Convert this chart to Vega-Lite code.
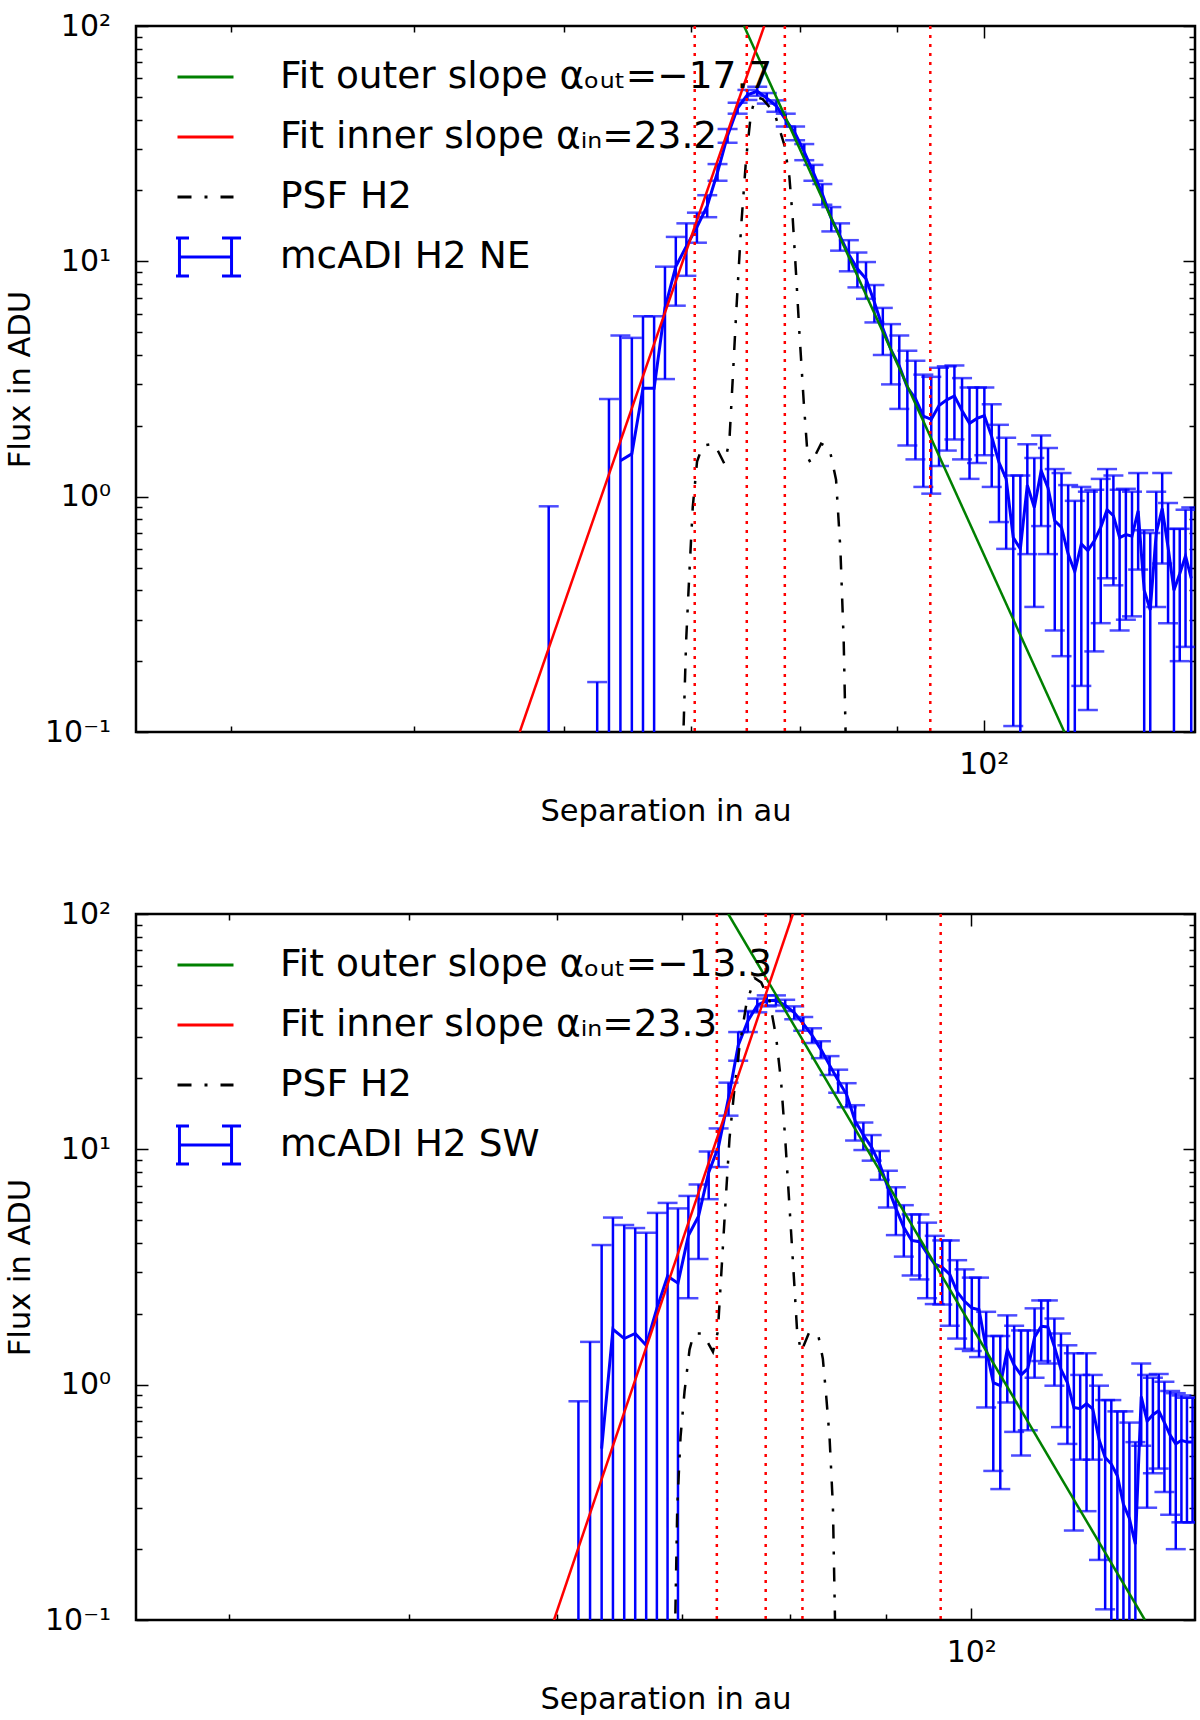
{
  "$schema": "https://vega.github.io/schema/vega-lite/v6.json",
  "autosize": {"type": "pad"},
  "padding": {"left": 4, "top": 9, "right": 0, "bottom": 0},
  "background": "white",
  "spacing": 182,
  "bounds": "flush",
  "datasets": {
    "ne": [
      {"x": 58.9, "y": null, "lo": 0.05, "hi": 0.91},
      {"x": 62.48, "y": null, "lo": 0.05, "hi": 0.163},
      {"x": 63.38, "y": null, "lo": 0.05, "hi": 2.6},
      {"x": 64.27, "y": 1.42, "lo": 0.05, "hi": 4.84},
      {"x": 65.17, "y": 1.52, "lo": 0.05, "hi": 4.73},
      {"x": 66.06, "y": 2.89, "lo": 0.05, "hi": 5.84},
      {"x": 66.96, "y": 2.89, "lo": 0.05, "hi": 5.84},
      {"x": 67.85, "y": 6.33, "lo": 3.16, "hi": 9.49},
      {"x": 68.75, "y": 9.5, "lo": 6.48, "hi": 12.7},
      {"x": 69.64, "y": 11.6, "lo": 8.68, "hi": 14.5},
      {"x": 70.54, "y": 14.0, "lo": 12.0, "hi": 16.1},
      {"x": 71.43, "y": 17.2, "lo": 15.4, "hi": 19.1},
      {"x": 72.33, "y": 23.9, "lo": 22.0, "hi": 25.9},
      {"x": 73.22, "y": 34.2, "lo": 31.9, "hi": 36.5},
      {"x": 74.12, "y": 44.8, "lo": 42.4, "hi": 47.2},
      {"x": 75.01, "y": 51.0, "lo": 48.5, "hi": 53.5},
      {"x": 75.91, "y": 52.8, "lo": 50.5, "hi": 55.2},
      {"x": 76.8, "y": 49.3, "lo": 46.8, "hi": 51.9},
      {"x": 77.7, "y": 45.7, "lo": 43.2, "hi": 48.3},
      {"x": 78.59, "y": 39.9, "lo": 37.4, "hi": 42.4},
      {"x": 79.49, "y": 35.0, "lo": 32.7, "hi": 37.4},
      {"x": 80.38, "y": 29.2, "lo": 26.9, "hi": 31.5},
      {"x": 81.28, "y": 23.8, "lo": 22.0, "hi": 25.7},
      {"x": 82.17, "y": 19.3, "lo": 17.4, "hi": 21.3},
      {"x": 83.07, "y": 15.2, "lo": 13.4, "hi": 17.0},
      {"x": 83.96, "y": 12.8, "lo": 11.1, "hi": 14.5},
      {"x": 84.86, "y": 10.7, "lo": 9.07, "hi": 12.3},
      {"x": 85.75, "y": 9.3, "lo": 7.75, "hi": 10.9},
      {"x": 86.65, "y": 8.43, "lo": 6.93, "hi": 9.93},
      {"x": 87.54, "y": 6.7, "lo": 5.5, "hi": 7.93},
      {"x": 88.44, "y": 5.2, "lo": 4.0, "hi": 6.34},
      {"x": 89.33, "y": 4.2, "lo": 3.0, "hi": 5.41},
      {"x": 90.23, "y": 3.6, "lo": 2.36, "hi": 4.84},
      {"x": 91.12, "y": 2.91, "lo": 1.65, "hi": 4.17},
      {"x": 92.02, "y": 2.61, "lo": 1.44, "hi": 3.78},
      {"x": 92.91, "y": 2.2, "lo": 1.1, "hi": 3.3},
      {"x": 93.81, "y": 2.13, "lo": 1.03, "hi": 3.23},
      {"x": 94.7, "y": 2.44, "lo": 1.35, "hi": 3.53},
      {"x": 95.6, "y": 2.58, "lo": 1.57, "hi": 3.58},
      {"x": 96.49, "y": 2.68, "lo": 1.75, "hi": 3.61},
      {"x": 97.39, "y": 2.32, "lo": 1.44, "hi": 3.19},
      {"x": 98.28, "y": 2.05, "lo": 1.19, "hi": 2.91},
      {"x": 99.18, "y": 2.15, "lo": 1.39, "hi": 2.91},
      {"x": 100.07, "y": 2.21, "lo": 1.5, "hi": 2.91},
      {"x": 100.97, "y": 1.8, "lo": 1.1, "hi": 2.47},
      {"x": 101.86, "y": 1.4, "lo": 0.78, "hi": 2.02},
      {"x": 102.76, "y": 1.19, "lo": 0.6, "hi": 1.78},
      {"x": 103.65, "y": 0.67, "lo": 0.106, "hi": 1.23},
      {"x": 104.55, "y": 0.6, "lo": 0.05, "hi": 1.23},
      {"x": 105.44, "y": 1.12, "lo": 0.57, "hi": 1.67},
      {"x": 106.34, "y": 0.9, "lo": 0.34, "hi": 1.46},
      {"x": 107.23, "y": 1.29, "lo": 0.75, "hi": 1.82},
      {"x": 108.13, "y": 1.09, "lo": 0.57, "hi": 1.61},
      {"x": 109.02, "y": 0.79, "lo": 0.27, "hi": 1.31},
      {"x": 109.92, "y": 0.74, "lo": 0.21, "hi": 1.26},
      {"x": 110.81, "y": 0.57, "lo": 0.05, "hi": 1.12},
      {"x": 111.71, "y": 0.48, "lo": 0.05, "hi": 0.96},
      {"x": 112.6, "y": 0.63, "lo": 0.157, "hi": 1.1},
      {"x": 113.5, "y": 0.59, "lo": 0.124, "hi": 1.05},
      {"x": 114.39, "y": 0.65, "lo": 0.22, "hi": 1.07},
      {"x": 115.29, "y": 0.74, "lo": 0.29, "hi": 1.19},
      {"x": 116.18, "y": 0.88, "lo": 0.45, "hi": 1.31},
      {"x": 117.08, "y": 0.83, "lo": 0.42, "hi": 1.23},
      {"x": 117.97, "y": 0.67, "lo": 0.27, "hi": 1.07},
      {"x": 118.87, "y": 0.69, "lo": 0.3, "hi": 1.08},
      {"x": 119.76, "y": 0.68, "lo": 0.31, "hi": 1.05},
      {"x": 120.66, "y": 0.87, "lo": 0.49, "hi": 1.26},
      {"x": 121.55, "y": 0.4, "lo": 0.05, "hi": 0.72},
      {"x": 122.45, "y": 0.33, "lo": 0.05, "hi": 0.7},
      {"x": 123.34, "y": 0.7, "lo": 0.34, "hi": 1.05},
      {"x": 124.24, "y": 0.89, "lo": 0.52, "hi": 1.26},
      {"x": 125.13, "y": 0.61, "lo": 0.29, "hi": 0.94},
      {"x": 126.03, "y": 0.4, "lo": 0.05, "hi": 0.73},
      {"x": 126.92, "y": 0.47, "lo": 0.2, "hi": 0.73},
      {"x": 127.82, "y": 0.56, "lo": 0.23, "hi": 0.88},
      {"x": 128.71, "y": 0.45, "lo": 0.05, "hi": 0.9}
    ],
    "sw": [
      {"x": 61.59, "y": null, "lo": 0.05, "hi": 0.85},
      {"x": 62.48, "y": null, "lo": 0.05, "hi": 1.52},
      {"x": 63.38, "y": 0.535, "lo": 0.05, "hi": 3.92},
      {"x": 64.27, "y": 1.72, "lo": 0.05, "hi": 5.13},
      {"x": 65.17, "y": 1.57, "lo": 0.05, "hi": 4.77},
      {"x": 66.06, "y": 1.65, "lo": 0.05, "hi": 4.63},
      {"x": 66.96, "y": 1.47, "lo": 0.05, "hi": 4.42},
      {"x": 67.85, "y": 2.11, "lo": 0.05, "hi": 5.37},
      {"x": 68.75, "y": 2.89, "lo": 0.05, "hi": 5.92},
      {"x": 69.64, "y": 2.7, "lo": 0.05, "hi": 5.61},
      {"x": 70.54, "y": 4.3, "lo": 2.33, "hi": 6.34},
      {"x": 71.43, "y": 5.2, "lo": 3.42, "hi": 7.09},
      {"x": 72.33, "y": 7.97, "lo": 6.14, "hi": 9.79},
      {"x": 73.22, "y": 10.3, "lo": 8.41, "hi": 12.27},
      {"x": 74.12, "y": 16.5, "lo": 13.9, "hi": 19.2},
      {"x": 75.01, "y": 27.6, "lo": 23.8, "hi": 31.5},
      {"x": 75.91, "y": 35.1, "lo": 31.5, "hi": 38.7},
      {"x": 76.8, "y": 41.0, "lo": 38.2, "hi": 43.7},
      {"x": 77.7, "y": 42.8, "lo": 40.5, "hi": 45.1},
      {"x": 78.59, "y": 43.0, "lo": 40.9, "hi": 45.1},
      {"x": 79.49, "y": 40.9, "lo": 38.7, "hi": 43.2},
      {"x": 80.38, "y": 38.1, "lo": 35.7, "hi": 40.5},
      {"x": 81.28, "y": 34.2, "lo": 31.9, "hi": 36.5},
      {"x": 82.17, "y": 30.5, "lo": 28.3, "hi": 32.7},
      {"x": 83.07, "y": 26.6, "lo": 24.4, "hi": 28.8},
      {"x": 83.96, "y": 22.8, "lo": 20.7, "hi": 24.9},
      {"x": 84.86, "y": 19.6, "lo": 17.4, "hi": 21.8},
      {"x": 85.75, "y": 17.1, "lo": 15.1, "hi": 19.1},
      {"x": 86.65, "y": 13.2, "lo": 10.9, "hi": 15.4},
      {"x": 87.54, "y": 11.5, "lo": 9.93, "hi": 13.0},
      {"x": 88.44, "y": 10.2, "lo": 8.95, "hi": 11.5},
      {"x": 89.33, "y": 8.63, "lo": 7.42, "hi": 9.84},
      {"x": 90.23, "y": 6.89, "lo": 5.66, "hi": 8.11},
      {"x": 91.12, "y": 5.61, "lo": 4.32, "hi": 6.9},
      {"x": 92.02, "y": 4.65, "lo": 3.5, "hi": 5.79},
      {"x": 92.91, "y": 4.1, "lo": 2.91, "hi": 5.29},
      {"x": 93.81, "y": 4.05, "lo": 2.8, "hi": 5.29},
      {"x": 94.7, "y": 3.61, "lo": 2.33, "hi": 4.88},
      {"x": 95.6, "y": 3.25, "lo": 2.2, "hi": 4.29},
      {"x": 96.49, "y": 3.15, "lo": 2.19, "hi": 4.1},
      {"x": 97.39, "y": 2.94, "lo": 1.78, "hi": 4.1},
      {"x": 98.28, "y": 2.48, "lo": 1.57, "hi": 3.38},
      {"x": 99.18, "y": 2.26, "lo": 1.42, "hi": 3.09},
      {"x": 100.07, "y": 2.12, "lo": 1.39, "hi": 2.85},
      {"x": 100.97, "y": 2.08, "lo": 1.31, "hi": 2.85},
      {"x": 101.86, "y": 1.42, "lo": 0.8, "hi": 2.04},
      {"x": 102.76, "y": 1.02, "lo": 0.43, "hi": 1.61},
      {"x": 103.65, "y": 0.99, "lo": 0.36, "hi": 1.61},
      {"x": 104.55, "y": 1.41, "lo": 0.84, "hi": 1.97},
      {"x": 105.44, "y": 1.21, "lo": 0.63, "hi": 1.78},
      {"x": 106.34, "y": 1.1, "lo": 0.5, "hi": 1.7},
      {"x": 107.23, "y": 1.17, "lo": 0.64, "hi": 1.7},
      {"x": 108.13, "y": 1.59, "lo": 1.07, "hi": 2.11},
      {"x": 109.02, "y": 1.77, "lo": 1.26, "hi": 2.28},
      {"x": 109.92, "y": 1.76, "lo": 1.23, "hi": 2.28},
      {"x": 110.81, "y": 1.45, "lo": 0.99, "hi": 1.91},
      {"x": 111.71, "y": 1.16, "lo": 0.66, "hi": 1.65},
      {"x": 112.6, "y": 1.02, "lo": 0.56, "hi": 1.47},
      {"x": 113.5, "y": 0.8, "lo": 0.24, "hi": 1.36},
      {"x": 114.39, "y": 0.79, "lo": 0.48, "hi": 1.1},
      {"x": 115.29, "y": 0.83, "lo": 0.29, "hi": 1.36},
      {"x": 116.18, "y": 0.79, "lo": 0.48, "hi": 1.1},
      {"x": 117.08, "y": 0.585, "lo": 0.18, "hi": 0.99},
      {"x": 117.97, "y": 0.49, "lo": 0.111, "hi": 0.86},
      {"x": 118.87, "y": 0.46, "lo": 0.05, "hi": 0.86},
      {"x": 119.76, "y": 0.41, "lo": 0.05, "hi": 0.77},
      {"x": 120.66, "y": 0.31, "lo": 0.05, "hi": 0.77},
      {"x": 121.55, "y": 0.27, "lo": 0.05, "hi": 0.69},
      {"x": 122.45, "y": 0.21, "lo": 0.05, "hi": 0.57},
      {"x": 123.34, "y": 0.89, "lo": 0.55, "hi": 1.23},
      {"x": 124.24, "y": 0.7, "lo": 0.3, "hi": 1.1},
      {"x": 125.13, "y": 0.745, "lo": 0.42, "hi": 1.07},
      {"x": 126.03, "y": 0.775, "lo": 0.44, "hi": 1.11},
      {"x": 126.92, "y": 0.69, "lo": 0.35, "hi": 1.03},
      {"x": 127.82, "y": 0.61, "lo": 0.28, "hi": 0.94},
      {"x": 128.71, "y": 0.56, "lo": 0.2, "hi": 0.92},
      {"x": 129.61, "y": 0.58, "lo": 0.26, "hi": 0.9},
      {"x": 130.5, "y": 0.57, "lo": 0.26, "hi": 0.88},
      {"x": 131.4, "y": 0.57, "lo": 0.26, "hi": 0.88}
    ],
    "psf_ne": [
      {"x": 69.3, "y": 0.07}, {"x": 69.62, "y": 0.244}, {"x": 69.9, "y": 0.48}, {"x": 70.18, "y": 0.9},
      {"x": 70.55, "y": 1.41}, {"x": 71.04, "y": 1.65}, {"x": 72.05, "y": 1.68}, {"x": 72.94, "y": 1.38},
      {"x": 73.38, "y": 1.72}, {"x": 73.68, "y": 3.16}, {"x": 73.98, "y": 5.92}, {"x": 74.43, "y": 13.9},
      {"x": 74.89, "y": 27.3}, {"x": 75.34, "y": 42.8}, {"x": 75.8, "y": 50.0}, {"x": 76.41, "y": 48.9},
      {"x": 77.51, "y": 42.8}, {"x": 78.46, "y": 31.2}, {"x": 78.94, "y": 22.8}, {"x": 79.26, "y": 15.2},
      {"x": 79.58, "y": 8.88}, {"x": 79.91, "y": 4.95}, {"x": 80.33, "y": 2.52}, {"x": 80.72, "y": 1.47},
      {"x": 81.05, "y": 1.38}, {"x": 82.04, "y": 1.68}, {"x": 82.87, "y": 1.61}, {"x": 83.55, "y": 1.18},
      {"x": 83.99, "y": 0.6}, {"x": 84.33, "y": 0.244}, {"x": 84.6, "y": 0.07}
    ],
    "psf_sw": [
      {"x": 69.35, "y": 0.07}, {"x": 69.58, "y": 0.305}, {"x": 69.86, "y": 0.6}, {"x": 70.21, "y": 0.94},
      {"x": 70.64, "y": 1.41}, {"x": 71.02, "y": 1.65}, {"x": 71.81, "y": 1.65}, {"x": 72.71, "y": 1.38},
      {"x": 73.15, "y": 1.68}, {"x": 73.45, "y": 2.89}, {"x": 73.82, "y": 5.66}, {"x": 74.21, "y": 11.1},
      {"x": 74.67, "y": 18.2}, {"x": 75.13, "y": 27.3}, {"x": 75.75, "y": 40.9}, {"x": 76.53, "y": 53.5},
      {"x": 77.17, "y": 51.2}, {"x": 77.97, "y": 42.8}, {"x": 78.61, "y": 29.9}, {"x": 79.1, "y": 19.1},
      {"x": 79.49, "y": 11.1}, {"x": 79.92, "y": 5.66}, {"x": 80.34, "y": 2.89}, {"x": 80.67, "y": 1.68},
      {"x": 81.07, "y": 1.38}, {"x": 81.91, "y": 1.68}, {"x": 82.82, "y": 1.61}, {"x": 83.27, "y": 1.29},
      {"x": 83.61, "y": 0.9}, {"x": 83.96, "y": 0.6}, {"x": 84.31, "y": 0.305}, {"x": 84.6, "y": 0.07}
    ],
    "out_ne": [{"x": 74.7, "y": 100}, {"x": 110.3, "y": 0.1}],
    "in_ne": [{"x": 56.86, "y": 0.1}, {"x": 76.56, "y": 100}],
    "out_sw": [{"x": 74.1, "y": 100}, {"x": 123.9, "y": 0.1}],
    "in_sw": [{"x": 59.76, "y": 0.1}, {"x": 80.25, "y": 100}],
    "vl_ne": [{"x": 70.35}, {"x": 74.95}, {"x": 78.5}, {"x": 93.7}],
    "vl_sw": [{"x": 73.06}, {"x": 77.6}, {"x": 81.2}, {"x": 96.3}]
  },
  "resolve": {"scale": {"color": "independent"}, "legend": {"color": "independent"}},
  "vconcat": [
    {
      "width": 1059,
      "height": 706,
      "resolve": {"axis": {"x": "independent", "y": "independent"}},
      "layer": [
        {
          "data": {"name": "ne"},
          "mark": {"type": "rule", "color": "#0000ff", "strokeWidth": 2.5, "clip": true},
          "encoding": {
            "x": {"field": "x", "type": "quantitative", "scale": {"type": "log", "domain": [35.65, 129.3], "nice": false},
              "axis": {"orient": "bottom", "values": [40, 50, 60, 70, 80, 90, 100], "labelExpr": "datum.value === 100 ? '10²' : ''",
                "tickSize": {"condition": {"test": "datum.value === 100", "value": -12}, "value": -6},
                "labelPadding": 29, "title": "Separation in au", "titlePadding": 11}},
            "y": {"field": "lo", "type": "quantitative", "scale": {"type": "log", "domain": [0.1, 100], "nice": false},
              "axis": {"orient": "left", "values": [0.1, 0.2, 0.3, 0.4, 0.5, 0.6, 0.7, 0.8, 0.9, 1, 2, 3, 4, 5, 6, 7, 8, 9, 10, 20, 30, 40, 50, 60, 70, 80, 90, 100],
                "labelExpr": "datum.value === 100 ? '10²' : datum.value === 10 ? '10¹' : datum.value === 1 ? '10⁰' : datum.value === 0.1 ? '10⁻¹' : ''",
                "tickSize": {"condition": {"test": "datum.value === 0.1 || datum.value === 1 || datum.value === 10 || datum.value === 100", "value": -12}, "value": -6},
                "labelPadding": 37.5, "title": "Flux in ADU", "titlePadding": 9}},
            "y2": {"field": "hi"}
          }
        },
        {
          "data": {"name": "ne"},
          "mark": {"type": "tick", "orient": "horizontal", "color": "#0000ff", "size": 20, "thickness": 2.5, "clip": true},
          "encoding": {
            "x": {"field": "x", "type": "quantitative", "scale": {"type": "log", "domain": [35.65, 129.3], "nice": false}, "axis": null},
            "y": {"field": "hi", "type": "quantitative", "scale": {"type": "log", "domain": [0.1, 100], "nice": false}, "axis": null}
          }
        },
        {
          "data": {"name": "ne"},
          "mark": {"type": "tick", "orient": "horizontal", "color": "#0000ff", "size": 20, "thickness": 2.5, "clip": true},
          "encoding": {
            "x": {"field": "x", "type": "quantitative", "scale": {"type": "log", "domain": [35.65, 129.3], "nice": false}, "axis": null},
            "y": {"field": "lo", "type": "quantitative", "scale": {"type": "log", "domain": [0.1, 100], "nice": false}, "axis": null}
          }
        },
        {
          "data": {"name": "ne"},
          "mark": {"type": "line", "strokeWidth": 3, "clip": true},
          "encoding": {
            "x": {"field": "x", "type": "quantitative", "scale": {"type": "log", "domain": [35.65, 129.3], "nice": false}, "axis": null},
            "y": {"field": "y", "type": "quantitative", "scale": {"type": "log", "domain": [0.1, 100], "nice": false}, "axis": null},
            "color": {"datum": "mcADI H2 NE", "type": "nominal",
              "scale": {"domain": ["Fit outer slope αₒᵤₜ=−17.7", "Fit inner slope αᵢₙ=23.2", "PSF H2", "mcADI H2 NE"], "range": ["#008000", "#ff0000", "#000000", "#0000ff"]},
              "legend": {"orient": "none", "legendX": 40, "legendY": 21, "padding": 0, "title": null, "labelOffset": 45, "clipHeight": 60, "rowPadding": 0,
                "symbolSize": 3136, "symbolStrokeWidth": 3, "symbolType": "stroke",
                "encode": {"symbols": {"update": {
                  "shape": {"signal": "indexof(datum.value, 'mcADI') === 0 ? 'M-0.93,-0.68V0.68M0.93,-0.68V0.68M-0.93,0H0.93M-1.27,-0.68H-0.59M-1.27,0.68H-0.59M0.59,-0.68H1.27M0.59,0.68H1.27' : 'stroke'"},
                  "strokeDash": {"signal": "datum.value === 'PSF H2' ? [14, 13, 3, 13] : [1, 0]"},
                  "fill": {"value": "transparent"}
                }}}}}
          }
        },
        {
          "data": {"name": "psf_ne"},
          "mark": {"type": "line", "strokeWidth": 2.5, "strokeDash": [14, 13, 3, 13], "clip": true},
          "encoding": {
            "x": {"field": "x", "type": "quantitative", "scale": {"type": "log", "domain": [35.65, 129.3], "nice": false}, "axis": null},
            "y": {"field": "y", "type": "quantitative", "scale": {"type": "log", "domain": [0.1, 100], "nice": false}, "axis": null},
            "color": {"datum": "PSF H2", "type": "nominal"}
          }
        },
        {
          "data": {"name": "out_ne"},
          "mark": {"type": "line", "strokeWidth": 2.5, "clip": true},
          "encoding": {
            "x": {"field": "x", "type": "quantitative", "scale": {"type": "log", "domain": [35.65, 129.3], "nice": false}, "axis": null},
            "y": {"field": "y", "type": "quantitative", "scale": {"type": "log", "domain": [0.1, 100], "nice": false}, "axis": null},
            "color": {"datum": "Fit outer slope αₒᵤₜ=−17.7", "type": "nominal"}
          }
        },
        {
          "data": {"name": "in_ne"},
          "mark": {"type": "line", "strokeWidth": 2.5, "clip": true},
          "encoding": {
            "x": {"field": "x", "type": "quantitative", "scale": {"type": "log", "domain": [35.65, 129.3], "nice": false}, "axis": null},
            "y": {"field": "y", "type": "quantitative", "scale": {"type": "log", "domain": [0.1, 100], "nice": false}, "axis": null},
            "color": {"datum": "Fit inner slope αᵢₙ=23.2", "type": "nominal"}
          }
        },
        {
          "data": {"name": "vl_ne"},
          "mark": {"type": "rule", "color": "#ff0000", "strokeWidth": 2.5, "strokeDash": [3, 6]},
          "encoding": {
            "x": {"field": "x", "type": "quantitative", "scale": {"type": "log", "domain": [35.65, 129.3], "nice": false}, "axis": null}
          }
        },
        {
          "data": {"name": "out_ne"},
          "mark": {"type": "point", "opacity": 0},
          "encoding": {
            "x": {"field": "x", "type": "quantitative", "scale": {"type": "log", "domain": [35.65, 129.3], "nice": false},
              "axis": {"orient": "top", "values": [40, 50, 60, 70, 80, 90, 100], "labels": false, "title": null,
                "tickSize": {"condition": {"test": "datum.value === 100", "value": -12}, "value": -6}}},
            "y": {"field": "y", "type": "quantitative", "scale": {"type": "log", "domain": [0.1, 100], "nice": false},
              "axis": {"orient": "right", "values": [0.1, 0.2, 0.3, 0.4, 0.5, 0.6, 0.7, 0.8, 0.9, 1, 2, 3, 4, 5, 6, 7, 8, 9, 10, 20, 30, 40, 50, 60, 70, 80, 90, 100], "labels": false, "title": null,
                "tickSize": {"condition": {"test": "datum.value === 0.1 || datum.value === 1 || datum.value === 10 || datum.value === 100", "value": -12}, "value": -6}}}
          }
        }
      ]
    },
    {
      "width": 1059,
      "height": 706,
      "resolve": {"axis": {"x": "independent", "y": "independent"}},
      "layer": [
        {
          "data": {"name": "sw"},
          "mark": {"type": "rule", "color": "#0000ff", "strokeWidth": 2.5, "clip": true},
          "encoding": {
            "x": {"field": "x", "type": "quantitative", "scale": {"type": "log", "domain": [35.68, 131.8], "nice": false},
              "axis": {"orient": "bottom", "values": [40, 50, 60, 70, 80, 90, 100], "labelExpr": "datum.value === 100 ? '10²' : ''",
                "tickSize": {"condition": {"test": "datum.value === 100", "value": -12}, "value": -6},
                "labelPadding": 29, "title": "Separation in au", "titlePadding": 11}},
            "y": {"field": "lo", "type": "quantitative", "scale": {"type": "log", "domain": [0.1, 100], "nice": false},
              "axis": {"orient": "left", "values": [0.1, 0.2, 0.3, 0.4, 0.5, 0.6, 0.7, 0.8, 0.9, 1, 2, 3, 4, 5, 6, 7, 8, 9, 10, 20, 30, 40, 50, 60, 70, 80, 90, 100],
                "labelExpr": "datum.value === 100 ? '10²' : datum.value === 10 ? '10¹' : datum.value === 1 ? '10⁰' : datum.value === 0.1 ? '10⁻¹' : ''",
                "tickSize": {"condition": {"test": "datum.value === 0.1 || datum.value === 1 || datum.value === 10 || datum.value === 100", "value": -12}, "value": -6},
                "labelPadding": 37.5, "title": "Flux in ADU", "titlePadding": 9}},
            "y2": {"field": "hi"}
          }
        },
        {
          "data": {"name": "sw"},
          "mark": {"type": "tick", "orient": "horizontal", "color": "#0000ff", "size": 20, "thickness": 2.5, "clip": true},
          "encoding": {
            "x": {"field": "x", "type": "quantitative", "scale": {"type": "log", "domain": [35.68, 131.8], "nice": false}, "axis": null},
            "y": {"field": "hi", "type": "quantitative", "scale": {"type": "log", "domain": [0.1, 100], "nice": false}, "axis": null}
          }
        },
        {
          "data": {"name": "sw"},
          "mark": {"type": "tick", "orient": "horizontal", "color": "#0000ff", "size": 20, "thickness": 2.5, "clip": true},
          "encoding": {
            "x": {"field": "x", "type": "quantitative", "scale": {"type": "log", "domain": [35.68, 131.8], "nice": false}, "axis": null},
            "y": {"field": "lo", "type": "quantitative", "scale": {"type": "log", "domain": [0.1, 100], "nice": false}, "axis": null}
          }
        },
        {
          "data": {"name": "sw"},
          "mark": {"type": "line", "strokeWidth": 3, "clip": true},
          "encoding": {
            "x": {"field": "x", "type": "quantitative", "scale": {"type": "log", "domain": [35.68, 131.8], "nice": false}, "axis": null},
            "y": {"field": "y", "type": "quantitative", "scale": {"type": "log", "domain": [0.1, 100], "nice": false}, "axis": null},
            "color": {"datum": "mcADI H2 SW", "type": "nominal",
              "scale": {"domain": ["Fit outer slope αₒᵤₜ=−13.3", "Fit inner slope αᵢₙ=23.3", "PSF H2", "mcADI H2 SW"], "range": ["#008000", "#ff0000", "#000000", "#0000ff"]},
              "legend": {"orient": "none", "legendX": 40, "legendY": 21, "padding": 0, "title": null, "labelOffset": 45, "clipHeight": 60, "rowPadding": 0,
                "symbolSize": 3136, "symbolStrokeWidth": 3, "symbolType": "stroke",
                "encode": {"symbols": {"update": {
                  "shape": {"signal": "indexof(datum.value, 'mcADI') === 0 ? 'M-0.93,-0.68V0.68M0.93,-0.68V0.68M-0.93,0H0.93M-1.27,-0.68H-0.59M-1.27,0.68H-0.59M0.59,-0.68H1.27M0.59,0.68H1.27' : 'stroke'"},
                  "strokeDash": {"signal": "datum.value === 'PSF H2' ? [14, 13, 3, 13] : [1, 0]"},
                  "fill": {"value": "transparent"}
                }}}}}
          }
        },
        {
          "data": {"name": "psf_sw"},
          "mark": {"type": "line", "strokeWidth": 2.5, "strokeDash": [14, 13, 3, 13], "clip": true},
          "encoding": {
            "x": {"field": "x", "type": "quantitative", "scale": {"type": "log", "domain": [35.68, 131.8], "nice": false}, "axis": null},
            "y": {"field": "y", "type": "quantitative", "scale": {"type": "log", "domain": [0.1, 100], "nice": false}, "axis": null},
            "color": {"datum": "PSF H2", "type": "nominal"}
          }
        },
        {
          "data": {"name": "out_sw"},
          "mark": {"type": "line", "strokeWidth": 2.5, "clip": true},
          "encoding": {
            "x": {"field": "x", "type": "quantitative", "scale": {"type": "log", "domain": [35.68, 131.8], "nice": false}, "axis": null},
            "y": {"field": "y", "type": "quantitative", "scale": {"type": "log", "domain": [0.1, 100], "nice": false}, "axis": null},
            "color": {"datum": "Fit outer slope αₒᵤₜ=−13.3", "type": "nominal"}
          }
        },
        {
          "data": {"name": "in_sw"},
          "mark": {"type": "line", "strokeWidth": 2.5, "clip": true},
          "encoding": {
            "x": {"field": "x", "type": "quantitative", "scale": {"type": "log", "domain": [35.68, 131.8], "nice": false}, "axis": null},
            "y": {"field": "y", "type": "quantitative", "scale": {"type": "log", "domain": [0.1, 100], "nice": false}, "axis": null},
            "color": {"datum": "Fit inner slope αᵢₙ=23.3", "type": "nominal"}
          }
        },
        {
          "data": {"name": "vl_sw"},
          "mark": {"type": "rule", "color": "#ff0000", "strokeWidth": 2.5, "strokeDash": [3, 6]},
          "encoding": {
            "x": {"field": "x", "type": "quantitative", "scale": {"type": "log", "domain": [35.68, 131.8], "nice": false}, "axis": null}
          }
        },
        {
          "data": {"name": "out_sw"},
          "mark": {"type": "point", "opacity": 0},
          "encoding": {
            "x": {"field": "x", "type": "quantitative", "scale": {"type": "log", "domain": [35.68, 131.8], "nice": false},
              "axis": {"orient": "top", "values": [40, 50, 60, 70, 80, 90, 100], "labels": false, "title": null,
                "tickSize": {"condition": {"test": "datum.value === 100", "value": -12}, "value": -6}}},
            "y": {"field": "y", "type": "quantitative", "scale": {"type": "log", "domain": [0.1, 100], "nice": false},
              "axis": {"orient": "right", "values": [0.1, 0.2, 0.3, 0.4, 0.5, 0.6, 0.7, 0.8, 0.9, 1, 2, 3, 4, 5, 6, 7, 8, 9, 10, 20, 30, 40, 50, 60, 70, 80, 90, 100], "labels": false, "title": null,
                "tickSize": {"condition": {"test": "datum.value === 0.1 || datum.value === 1 || datum.value === 10 || datum.value === 100", "value": -12}, "value": -6}}}
          }
        }
      ]
    }
  ],
  "config": {
    "font": "DejaVu Sans",
    "view": {"stroke": "#000000", "strokeWidth": 2.5},
    "axis": {
      "domain": false, "grid": false, "zindex": 1,
      "labelFont": "DejaVu Sans", "labelFontSize": 30, "labelColor": "#000000",
      "titleFont": "DejaVu Sans", "titleFontSize": 30.5, "titleFontWeight": "normal", "titleColor": "#000000",
      "tickColor": "#000000", "tickWidth": 1.5,
      "labelFlush": false, "labelOverlap": false, "labelBound": false
    },
    "legend": {
      "labelFont": "DejaVu Sans", "labelFontSize": 37.5, "labelColor": "#000000", "labelLimit": 2000
    }
  }
}
